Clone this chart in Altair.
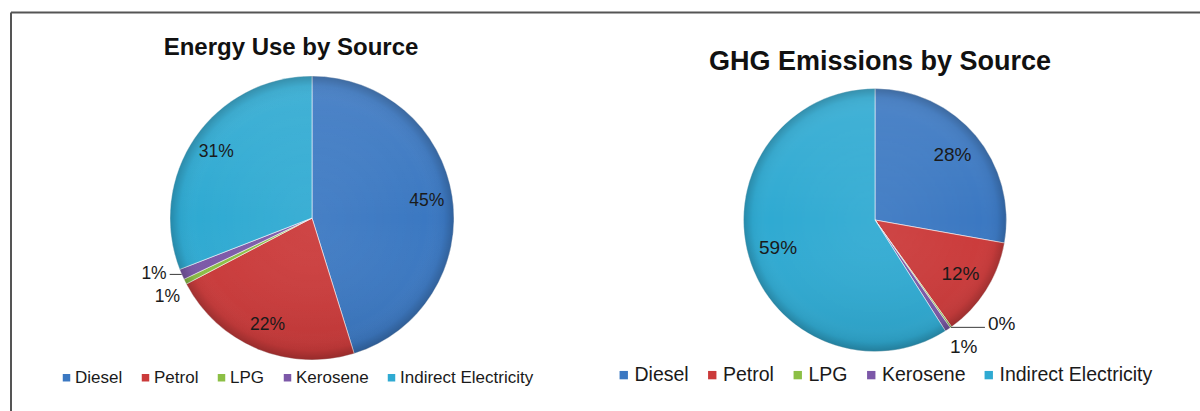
import math

import altair as alt
import pandas as pd

# Energy sources, in slice / legend order
SOURCES = ["Diesel", "Petrol", "LPG", "Kerosene", "Indirect Electricity"]
COLORS = ["#3B78C2", "#CB3A3A", "#8CBF45", "#7C58A8", "#2FAAD2"]

# Shares of total (%)
ENERGY_SHARE = [45.2, 22.1, 0.6, 1.2, 30.9]
GHG_SHARE = [27.8, 12.3, 0.2, 0.7, 59.0]

TITLES = ["Energy Use by Source", "GHG Emissions by Source"]

FONT = "Liberation Sans"
INK = "#1a1a1a"
W, H = 1200, 411


def frame(values):
    return pd.DataFrame({"source": SOURCES, "idx": list(range(len(SOURCES))), "value": values})


def overlay(cx, cy, r, grad):
    return alt.Chart(pd.DataFrame({"k": [0]})).mark_arc(
        radius=r, theta=0, theta2=2 * math.pi, fill=grad
    ).encode(x=alt.value(cx), y=alt.value(cy))


def shading(cx, cy, r):
    """Soft bevel over the whole pie: light from above, darker rim."""
    sheen = {
        "gradient": "linear", "x1": 0, "y1": 0, "x2": 0, "y2": 1,
        "stops": [
            {"offset": 0, "color": "rgba(255,255,255,0.10)"},
            {"offset": 0.5, "color": "rgba(255,255,255,0.0)"},
            {"offset": 1, "color": "rgba(0,0,0,0.08)"},
        ],
    }
    rim = {
        "gradient": "radial",
        "x1": 0.5, "y1": 0.5, "r1": 0,
        "x2": 0.5, "y2": 0.5, "r2": 0.5,
        "stops": [
            {"offset": 0, "color": "rgba(255,255,255,0.06)"},
            {"offset": 0.8, "color": "rgba(255,255,255,0.0)"},
            {"offset": 0.93, "color": "rgba(0,0,0,0.04)"},
            {"offset": 1, "color": "rgba(0,0,0,0.20)"},
        ],
    }
    return [overlay(cx, cy, r, sheen), overlay(cx, cy, r, rim)]


def pie(values, cx, cy, r, r_label, font_size, lgd, outside):
    df = frame(values)
    theta = alt.Theta("value:Q", stack=True)
    order = alt.Order("idx:Q")

    arcs = alt.Chart(df).mark_arc(
        radius=r, stroke="white", strokeWidth=0.8, strokeOpacity=0.7
    ).encode(
        theta=theta, order=order, x=alt.value(cx), y=alt.value(cy),
        color=alt.Color("source:N", scale=alt.Scale(domain=SOURCES, range=COLORS),
                        sort=SOURCES, legend=lgd),
    )

    # angular position of each slice, for labels sitting outside the pie
    base = alt.Chart(df).transform_window(
        cum="sum(value)", sort=[alt.SortField("idx")], frame=[None, 0]
    ).transform_joinaggregate(
        total="sum(value)"
    ).transform_calculate(
        label="format(datum.value / datum.total, '.0%')",
        mid="2 * PI * (datum.cum - datum.value / 2) / datum.total",
        px=f"{cx} + {r} * sin(datum.mid)",
        py=f"{cy} - {r} * cos(datum.mid)",
    )

    inner = base.transform_calculate(
        inner="datum.value >= 5 ? datum.label : ''"
    ).mark_text(
        radius=r_label, fontSize=font_size, font=FONT, color=INK, baseline="middle"
    ).encode(theta=theta, order=order, text="inner:N", x=alt.value(cx), y=alt.value(cy))

    layers = [arcs, *shading(cx, cy, r), inner]

    for src, dx, dy, align, leader in outside:
        sel = base.transform_filter(alt.datum.source == src)
        layers.append(
            sel.mark_text(
                align=align, baseline="middle", dx=dx, dy=dy,
                fontSize=font_size, font=FONT, color=INK,
            ).encode(
                x=alt.X("px:Q", scale=None, axis=None),
                y=alt.Y("py:Q", scale=None, axis=None),
                text="label:N",
            )
        )
        if leader:
            layers.append(
                sel.transform_calculate(ex=f"datum.px + {leader}").mark_rule(
                    color="#3a3a3a", strokeWidth=1
                ).encode(
                    x=alt.X("px:Q", scale=None, axis=None),
                    x2="ex:Q",
                    y=alt.Y("py:Q", scale=None, axis=None),
                )
            )
    return layers


def legend(x, y, sym, size, offset, pad):
    return alt.Legend(
        title=None, orient="none", legendX=x, legendY=y, direction="horizontal",
        columns=5, symbolType="square", symbolSize=sym, symbolStrokeWidth=0,
        labelFont=FONT, labelFontSize=size, labelColor=INK, labelOffset=offset,
        columnPadding=pad, labelLimit=400,
    )


left = pie(
    ENERGY_SHARE, 312, 218, 142, 116, 17.5,
    legend(58, 369, 56, 17, 0, 14),
    [("Kerosene", -15, 0, "right", -12), ("LPG", -5, 15, "right", 0)],
)

right = pie(
    GHG_SHARE, 875, 220, 131.5, 101, 19,
    legend(614, 365, 70, 19.5, 1, 13.5),
    [("LPG", 37, -3, "left", 34), ("Kerosene", 2, 18, "left", 0)],
)


def title(text, x, y, size):
    return alt.Chart(pd.DataFrame({"t": [text]})).mark_text(
        fontSize=size, fontWeight="bold", font=FONT, color="#111111", baseline="middle"
    ).encode(text="t:N", x=alt.value(x), y=alt.value(y))


one = pd.DataFrame({"k": [0]})
frame_top = alt.Chart(one).mark_rule(color="#555555", strokeWidth=2).encode(
    x=alt.value(11), x2=alt.value(W), y=alt.value(12.5)
)
frame_left = alt.Chart(one).mark_rule(color="#555555", strokeWidth=2).encode(
    x=alt.value(11), y=alt.value(12.5), y2=alt.value(H)
)

chart = alt.layer(
    frame_top, frame_left,
    title(TITLES[0], 291, 48, 24),
    title(TITLES[1], 880, 62, 27),
    alt.layer(*left), alt.layer(*right),
).resolve_scale(
    color="independent"
).resolve_legend(
    color="independent"
).properties(
    width=W, height=H, autosize="none", padding=0, background="white"
).configure_view(strokeWidth=0)

chart.save("out.html", embed_options={"renderer": "svg", "actions": False})
